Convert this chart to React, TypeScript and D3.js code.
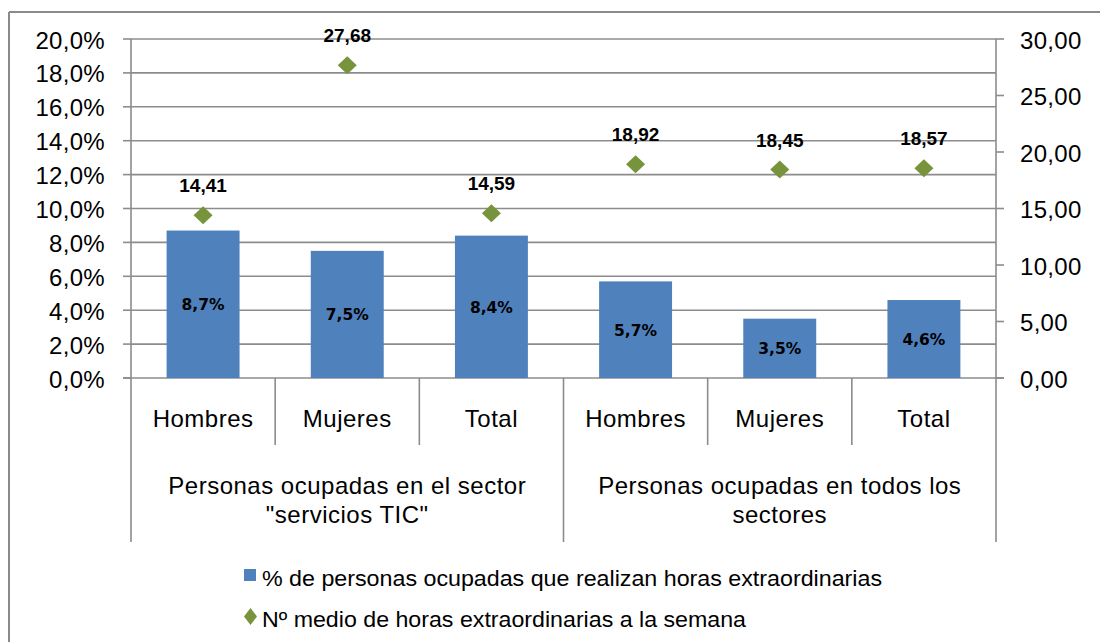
import React from "react";
import * as d3 from "d3";

const categories = ["Hombres", "Mujeres", "Total", "Hombres", "Mujeres", "Total"];
const groups = [
  { lines: ["Personas ocupadas en el sector", "\"servicios TIC\""], span: 3 },
  { lines: ["Personas ocupadas en todos los", "sectores"], span: 3 },
];
const pctValues = [8.7, 7.5, 8.4, 5.7, 3.5, 4.6];
const hoursValues = [14.41, 27.68, 14.59, 18.92, 18.45, 18.57];
const leftTicks = [0, 2, 4, 6, 8, 10, 12, 14, 16, 18, 20];
const rightTicks = [0, 5, 10, 15, 20, 25, 30];
const legendLabels = [
  "% de personas ocupadas que realizan horas extraordinarias",
  "Nº medio de horas extraordinarias a la semana",
];

const BAR = "#4F81BD";
const GREEN = "#77933C";
const GRID = "#8c8c8c";
const FONT = "'Liberation Sans', Arial, sans-serif";

export default function App() {
  const left = 131, right = 996, top = 39, bottom = 378;
  const idx = categories.map((_, i) => i);
  const x = d3.scaleBand<number>().domain(idx).range([left, right]).paddingInner(0).paddingOuter(0);
  const yL = d3.scaleLinear().domain([0, 20]).range([bottom, top]);
  const yR = d3.scaleLinear().domain([0, 30]).range([bottom, top]);
  const bw = x.bandwidth();
  const barW = bw * 0.506;
  const fmtPct = (v: number) => v.toFixed(1).replace(".", ",") + "%";
  const fmt2 = (v: number) => v.toFixed(2).replace(".", ",");

  let acc = 0;
  const groupPos = groups.map((g) => {
    const x0 = x(acc)!;
    acc += g.span;
    const x1 = acc < categories.length ? x(acc)! : right;
    return { ...g, x0, x1 };
  });

  return (
    <svg width={1100} height={642} style={{ position: "absolute", left: 0, top: 0 }}>
      <rect x={0} y={0} width={1100} height={642} fill="#fff" />
      {/* outer border */}
      <line x1={9} y1={12} x2={1100} y2={12} stroke="#8a8a8a" strokeWidth={2} />
      <line x1={9} y1={12} x2={9} y2={642} stroke="#8a8a8a" strokeWidth={2} />

      {/* gridlines */}
      {leftTicks.map((t) => (
        <line key={"g" + t} x1={t === 0 ? left - 8 : left} x2={t === 0 ? right + 8 : right} y1={yL(t)} y2={yL(t)} stroke={GRID} strokeWidth={1.6} />
      ))}
      {leftTicks.map((t) => (
        <line key={"lt" + t} x1={left - 8} x2={left} y1={yL(t)} y2={yL(t)} stroke={GRID} strokeWidth={1.6} />
      ))}
      {rightTicks.map((t) => (
        <line key={"rt" + t} x1={right} x2={right + 8} y1={yR(t)} y2={yR(t)} stroke={GRID} strokeWidth={1.6} />
      ))}

      {/* bars */}
      {pctValues.map((v, i) => (
        <rect key={"b" + i} x={x(i)! + (bw - barW) / 2} y={yL(v)} width={barW} height={yL(0) - yL(v)} fill={BAR} />
      ))}
      {pctValues.map((v, i) => (
        <text key={"bl" + i} x={x(i)! + bw / 2} y={(yL(v) + yL(0)) / 2 + 6} textAnchor="middle"
          fontFamily="'DejaVu Sans', Verdana, sans-serif" fontWeight="bold" fontSize={15.5} fill="#000">
          {fmtPct(v)}
        </text>
      ))}

      {/* axes */}
      <line x1={left} x2={left} y1={top} y2={542} stroke={GRID} strokeWidth={1.6} />
      <line x1={right} x2={right} y1={top} y2={542} stroke={GRID} strokeWidth={1.6} />
      {idx.slice(1).map((i) => {
        const isGroup = i === 3;
        return (
          <line key={"d" + i} x1={x(i)!} x2={x(i)!} y1={bottom} y2={isGroup ? 542 : 445} stroke={GRID} strokeWidth={1.6} />
        );
      })}

      {/* diamonds */}
      {hoursValues.map((v, i) => {
        const cx = x(i)! + bw / 2, cy = yR(v);
        return (
          <g key={"m" + i}>
            <path d={`M${cx},${cy - 9}L${cx + 9.5},${cy}L${cx},${cy + 9}L${cx - 9.5},${cy}Z`} fill={GREEN} />
            <text x={cx} y={cy - 23} textAnchor="middle" fontFamily={FONT} fontWeight="bold" fontSize={19} fill="#000">
              {fmt2(v)}
            </text>
          </g>
        );
      })}

      {/* tick labels */}
      {leftTicks.map((t) => (
        <text key={"ll" + t} x={105} y={yL(t) + 9.5} textAnchor="end" fontFamily={FONT} fontSize={24} letterSpacing={0.3} fill="#000">
          {fmtPct(t)}
        </text>
      ))}
      {rightTicks.map((t) => (
        <text key={"rl" + t} x={1020} y={yR(t) + 9.5} textAnchor="start" fontFamily={FONT} fontSize={24} letterSpacing={0.3} fill="#000">
          {fmt2(t)}
        </text>
      ))}

      {/* category labels */}
      {categories.map((c, i) => (
        <text key={"c" + i} x={x(i)! + bw / 2} y={427} textAnchor="middle" fontFamily={FONT} fontSize={24} letterSpacing={0.5} fill="#000">
          {c}
        </text>
      ))}
      {groupPos.map((g, gi) => (
        <text key={"gp" + gi} textAnchor="middle" fontFamily={FONT} fontSize={24} letterSpacing={0.5} fill="#000">
          {g.lines.map((l, li) => (
            <tspan key={li} x={(g.x0 + g.x1) / 2} y={494 + li * 29}>{l}</tspan>
          ))}
        </text>
      ))}

      {/* legend */}
      <rect x={244} y={569} width={12} height={12} fill={BAR} />
      <text x={262} y={586} fontFamily={FONT} fontSize={22} textLength={620} lengthAdjust="spacingAndGlyphs" fill="#000">
        {legendLabels[0]}
      </text>
      <path d="M250.5,608L257,616.5L250.5,625L244,616.5Z" fill={GREEN} />
      <text x={262} y={627} fontFamily={FONT} fontSize={22} textLength={484} lengthAdjust="spacingAndGlyphs" fill="#000">
        {legendLabels[1]}
      </text>
    </svg>
  );
}
